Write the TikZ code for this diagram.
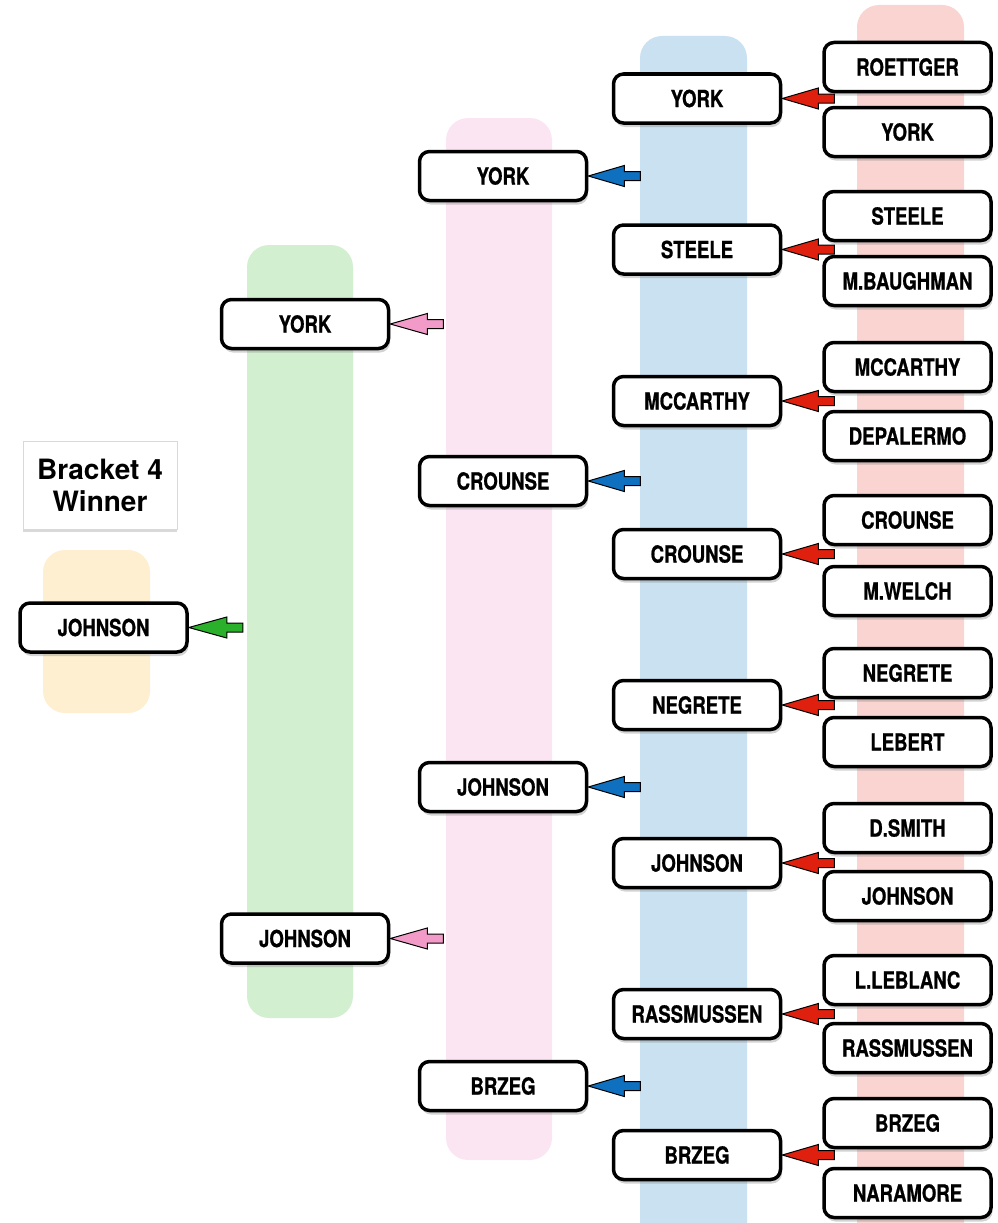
\documentclass[tikz,border=0pt]{standalone}
\usepackage{fontspec}
\setmainfont{TeX Gyre Heros}
\newfontfamily\namefont[FakeStretch=0.79, BoldFeatures={FakeBold=0.8}]{TeX Gyre Heros}
\usetikzlibrary{calc,shadows}

\definecolor{stripO}{HTML}{FDEFD0}
\definecolor{stripG}{HTML}{D2EFCF}
\definecolor{stripP}{HTML}{FCE5F3}
\definecolor{stripB}{HTML}{C9E1F0}
\definecolor{stripR}{HTML}{F9D4D1}
\definecolor{arrR}{HTML}{E0200E}
\definecolor{arrB}{HTML}{0E70BE}
\definecolor{arrP}{HTML}{F29AC8}
\definecolor{arrG}{HTML}{2AB02A}

\tikzset{
  player/.style={draw=black, line width=3.5pt, rounded corners=10pt, fill=white,
    minimum width=167pt, minimum height=49pt, inner sep=0pt,
    font=\namefont\bfseries\fontsize{23.5}{26}\selectfont,
    drop shadow={shadow xshift=1.5pt, shadow yshift=-4pt, opacity=0.35}},
  strip/.style={rounded corners=22pt},
  titlebox/.style={draw=black!15, line width=1pt, fill=white, align=center,
    minimum width=154pt, minimum height=88pt, inner sep=0pt,
    font=\bfseries\fontsize{28}{32}\selectfont,
    drop shadow={shadow xshift=0pt, shadow yshift=-3pt, opacity=0.3}},
  ptr/.style={fill=#1, draw=black, line width=1pt, line join=miter,
    to path={let \p1=(\tikztostart), \p2=(\tikztotarget) in
      (\x2,\y2+4.5pt) -- (\x2-16pt,\y2+4.5pt) -- (\x2-16pt,\y2+10.5pt) -- (\p1)
      -- (\x2-16pt,\y2-10.5pt) -- (\x2-16pt,\y2-4.5pt) -- (\x2,\y2-4.5pt) -- cycle}}
}

\begin{document}
\begin{tikzpicture}[x=1pt,y=-1pt]
\useasboundingbox (0,0) rectangle (998,1223);

% round backgrounds
\fill[stripO, strip] (43,550) rectangle (150,713);
\fill[stripG, strip] (247,245) rectangle (353,1018);
\fill[stripP, strip] (446,118) rectangle (552,1160);
\fill[stripB, strip] (640,36) rectangle (747,1260);
\fill[stripR, strip] (857,5) rectangle (964,1260);

\node[titlebox] (title) at (100,485) {Bracket 4\\Winner};

% first round
\foreach \y/\name [count=\i] in {67/ROETTGER, 132/YORK, 216/STEELE, 281/M.BAUGHMAN,
    367/MCCARTHY, 436/DEPALERMO, 520/CROUNSE, 591/M.WELCH, 673/NEGRETE, 742/LEBERT,
    828/D.SMITH, 896/JOHNSON, 980/L.LEBLANC, 1048/RASSMUSSEN, 1123/BRZEG, 1193/NARAMORE}
  \node[player] (r\i) at (907.5,\y) {\name};

% second round
\foreach \y/\name [count=\i] in {98.5/YORK, 249.5/STEELE, 401/MCCARTHY, 554/CROUNSE,
    705/NEGRETE, 863/JOHNSON, 1014/RASSMUSSEN, 1155/BRZEG}
  \node[player] (q\i) at (697,\y) {\name};

% quarter finals
\foreach \y/\name [count=\i] in {176/YORK, 481/CROUNSE, 787/JOHNSON, 1086/BRZEG}
  \node[player] (s\i) at (503,\y) {\name};

% semi finals
\node[player] (f1) at (305,324) {YORK};
\node[player] (f2) at (305,938.5) {JOHNSON};

% winner
\node[player] (w) at (103.5,627.5) {JOHNSON};

% winner pointers
\foreach \i in {1,...,8}
  \draw[ptr=arrR] (q\i.east) to ($(q\i.east)+(52,0)$);
\foreach \i in {1,...,4}
  \draw[ptr=arrB] (s\i.east) to ($(s\i.east)+(52,0)$);
\foreach \i in {1,2}
  \draw[ptr=arrP] (f\i.east) to ($(f\i.east)+(53,0)$);
\draw[ptr=arrG] (w.east) to ($(w.east)+(54,0)$);
\end{tikzpicture}
\end{document}
